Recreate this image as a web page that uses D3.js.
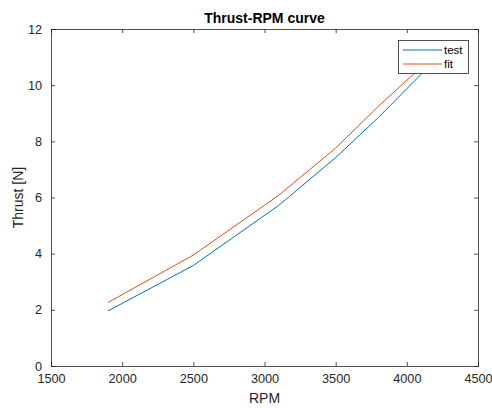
<!DOCTYPE html>
<html><head><meta charset="utf-8">
<script src="https://cdn.jsdelivr.net/npm/d3@7"></script>
<style>body{margin:0;background:#fff}svg{display:block}text{font-family:"Liberation Sans",Arial,sans-serif}</style>
</head><body><svg id="c" width="492" height="408"></svg>
<script>
(function(){
const rpm = [1900, 2500, 3100, 3500, 3800, 4200];
const testThrust = [1.96, 3.58, 5.72, 7.42, 8.85, 10.9];
const fitThrust = [2.26, 3.95, 6.08, 7.76, 9.25, 11.1];
const xTicks = [1500, 2000, 2500, 3000, 3500, 4000, 4500];
const yTicks = [0, 2, 4, 6, 8, 10, 12];
const seriesNames = ["test", "fit"];
const colors = ["#0072BD", "#D95319"];

const svg = d3.select("#c");
const L = 51, R = 478, T = 29, B = 366;
const x = d3.scaleLinear().domain([1500, 4500]).range([L, R]);
const y = d3.scaleLinear().domain([0, 12]).range([B, T]);
const axCol = "#262626";

// lines
const line = d3.line().x(d => x(d[0])).y(d => y(d[1]));
[testThrust, fitThrust].forEach((vals, i) => {
  svg.append("path").datum(rpm.map((r, k) => [r, vals[k]]))
    .attr("d", line).attr("fill", "none").attr("stroke", colors[i]).attr("stroke-width", 1);
});

// axes
const fs = "12.7px";
const gBottom = svg.append("g").attr("transform", `translate(0,${B})`)
  .call(d3.axisBottom(x).tickValues(xTicks).tickSize(-4).tickPadding(8).tickFormat(d3.format("d")));
const gTop = svg.append("g").attr("transform", `translate(0,${T})`)
  .call(d3.axisTop(x).tickValues(xTicks).tickSize(-4).tickFormat(""));
const gLeft = svg.append("g").attr("transform", `translate(${L},0)`)
  .call(d3.axisLeft(y).tickValues(yTicks).tickSize(-4).tickPadding(9));
const gRight = svg.append("g").attr("transform", `translate(${R},0)`)
  .call(d3.axisRight(y).tickValues(yTicks).tickSize(-4).tickFormat(""));
[gBottom, gTop, gLeft, gRight].forEach(g => {
  g.select(".domain").attr("stroke", axCol).attr("stroke-width", 0.8);
  g.selectAll(".tick line").attr("stroke", axCol).attr("stroke-width", 0.8);
  g.selectAll("text").attr("fill", axCol).style("font-size", fs).attr("font-family", null);
});

// labels
svg.append("text").attr("x", (L + R) / 2).attr("y", 23).attr("text-anchor", "middle")
  .style("font-size", "14px").style("font-weight", "bold").attr("fill", "#000").text("Thrust-RPM curve");
svg.append("text").attr("x", (L + R) / 2).attr("y", 403).attr("text-anchor", "middle")
  .style("font-size", "14px").attr("fill", axCol).text("RPM");
svg.append("text").attr("transform", `translate(23,${(T + B) / 2}) rotate(-90)`).attr("text-anchor", "middle")
  .style("font-size", "14px").attr("fill", axCol).text("Thrust [N]");

// legend
const lg = svg.append("g");
lg.append("rect").attr("x", 398.5).attr("y", 40.5).attr("width", 70).attr("height", 33)
  .attr("fill", "#fff").attr("stroke", axCol).attr("stroke-width", 0.8);
seriesNames.forEach((n, i) => {
  const yy = 50 + i * 14;
  lg.append("line").attr("x1", 403).attr("x2", 442).attr("y1", yy).attr("y2", yy)
    .attr("stroke", colors[i]).attr("stroke-width", 1);
  lg.append("text").attr("x", 444).attr("y", yy + 4).style("font-size", "11.5px").attr("fill", "#000").text(n);
});
})();
</script></body></html>
